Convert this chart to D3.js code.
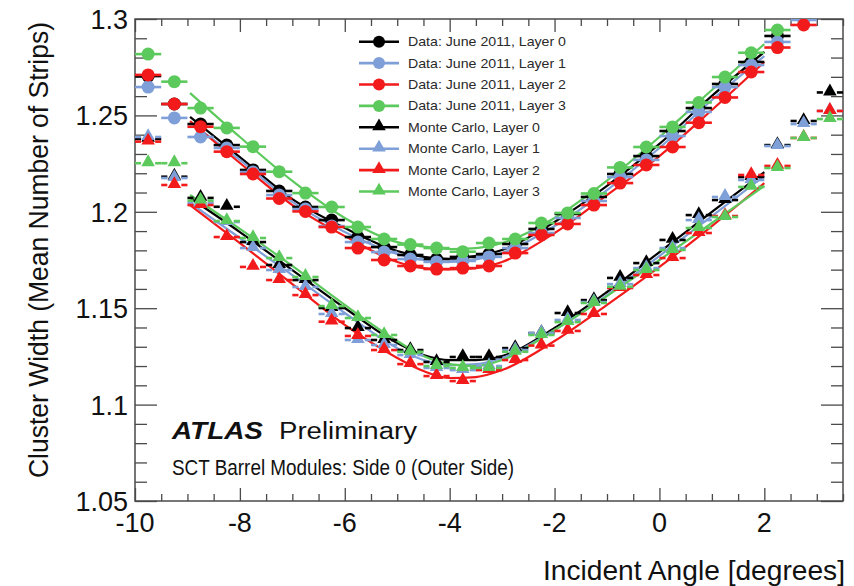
<!DOCTYPE html>
<html>
<head>
<meta charset="utf-8">
<script src="https://cdn.jsdelivr.net/npm/d3@7"></script>
<style>
  html, body { margin: 0; padding: 0; background: #fff; }
  svg { display: block; font-family: "Liberation Sans", Arial, Helvetica, sans-serif; }
</style>
</head>
<body>
<svg id="chart" width="854" height="586"></svg>
<script>
// Bin centres of the incident angle histogram (degrees)
const angles = [-9.75, -9.25, -8.75, -8.25, -7.75, -7.25, -6.75, -6.25, -5.75, -5.25,
                -4.75, -4.25, -3.75, -3.25, -2.75, -2.25, -1.75, -1.25, -0.75, -0.25,
                0.25, 0.75, 1.25, 1.75, 2.25, 2.75, 3.25];
const binHalfWidth = 0.25;

// Mean cluster width, data (June 2011)
const dataLayer0 = [1.2704, 1.2559, 1.2455, 1.2346, 1.2217, 1.2108, 1.2025, 1.1957, 1.1869, 1.1817,
                    1.1776, 1.1755, 1.1766, 1.1781, 1.1833, 1.1911, 1.1989, 1.2077, 1.2196, 1.2289,
                    1.2419, 1.2538, 1.2663, 1.2777, 1.2912, null, null];
const dataLayer1 = [1.2647, 1.2487, 1.2388, 1.2331, 1.2206, 1.2087, 1.2014, 1.1926, 1.1843, 1.1791,
                    1.1755, 1.1740, 1.1745, 1.1766, 1.1812, 1.1890, 1.1968, 1.2056, 1.2180, 1.2269,
                    1.2393, 1.2518, 1.2647, 1.2761, 1.2881, 1.2995, null];
const dataLayer2 = [1.2710, 1.2559, 1.2441, 1.2312, 1.2196, 1.2069, 1.2002, 1.1921, 1.1812, 1.1750,
                    1.1719, 1.1703, 1.1708, 1.1719, 1.1786, 1.1880, 1.1937, 1.2035, 1.2149, 1.2243,
                    1.2336, 1.2462, 1.2593, 1.2725, 1.2852, 1.2969, null];
const dataLayer3 = [1.2818, 1.2675, 1.2538, 1.2435, 1.2338, 1.2208, 1.2097, 1.2025, 1.1921, 1.1859,
                    1.1830, 1.1812, 1.1793, 1.1838, 1.1859, 1.1942, 1.1994, 1.2095, 1.2230, 1.2336,
                    1.2440, 1.2567, 1.2699, 1.2825, 1.2943, null, null];

// Mean cluster width, Monte Carlo
const mcLayer0 = [1.2378, 1.2182, 1.2072, 1.2026, 1.1843, 1.1724, 1.1646, 1.1501, 1.1397, 1.1335,
                  1.1283, 1.1221, 1.1247, 1.1247, 1.1293, 1.1371, 1.1475, 1.1542, 1.1657, 1.1734,
                  1.1854, 1.1983, 1.2061, 1.2180, 1.2346, 1.2471, 1.2619];
const mcLayer1 = [1.2388, 1.2175, 1.2046, 1.1947, 1.1812, 1.1698, 1.1610, 1.1470, 1.1335, 1.1309,
                  1.1257, 1.1190, 1.1179, 1.1200, 1.1283, 1.1371, 1.1439, 1.1532, 1.1625, 1.1708,
                  1.1812, 1.1957, 1.2077, 1.2165, 1.2341, 1.2455, 1.2523];
const mcLayer2 = [1.2364, 1.2139, 1.2035, 1.1869, 1.1714, 1.1646, 1.1568, 1.1430, 1.1356, 1.1283,
                  1.1210, 1.1148, 1.1122, 1.1179, 1.1231, 1.1306, 1.1382, 1.1470, 1.1605, 1.1672,
                  1.1760, 1.1890, 1.1978, 1.2191, 1.2238, 1.2383, 1.2523];
const mcLayer3 = [1.2252, 1.2252, 1.2058, 1.1952, 1.1864, 1.1760, 1.1662, 1.1511, 1.1449, 1.1361,
                  1.1274, 1.1200, 1.1190, 1.1190, 1.1274, 1.1361, 1.1428, 1.1527, 1.1611, 1.1698,
                  1.1802, 1.1916, 1.1973, 1.2129, 1.2227, 1.2383, 1.2481];

// Fitted curves, sampled at these angles
const fitAngles = [-8.95, -8, -7, -6, -5, -4.5, -4, -3.5, -3, -2, -1, 0, 1, 2];
const fitData0 = [1.2492, 1.2284, 1.2066, 1.1916, 1.1797, 1.1766, 1.1755, 1.1771, 1.1802, 1.1947, 1.2134, 1.2352, 1.2601, 1.2829];
const fitData1 = [1.2466, 1.2269, 1.2051, 1.1895, 1.1781, 1.1750, 1.1740, 1.1753, 1.1786, 1.1926, 1.2113, 1.2331, 1.2580, 1.2808];
const fitData2 = [1.2471, 1.2253, 1.2035, 1.1874, 1.1740, 1.1708, 1.1701, 1.1708, 1.1740, 1.1890, 1.2087, 1.2289, 1.2528, 1.2777];
const fitData3 = [1.2616, 1.2388, 1.2160, 1.1968, 1.1843, 1.1820, 1.1807, 1.1812, 1.1838, 1.1968, 1.2162, 1.2388, 1.2632, 1.2870];
const fitMc0 = [1.2072, 1.1895, 1.1698, 1.1501, 1.1319, 1.1257, 1.1231, 1.1231, 1.1252, 1.1397, 1.1584, 1.1791, 1.1999, 1.2206];
const fitMc1 = [1.2046, 1.1864, 1.1672, 1.1475, 1.1293, 1.1231, 1.1205, 1.1210, 1.1242, 1.1387, 1.1568, 1.1771, 1.1978, 1.2186];
const fitMc2 = [1.2035, 1.1838, 1.1625, 1.1413, 1.1242, 1.1174, 1.1138, 1.1143, 1.1179, 1.1330, 1.1517, 1.1714, 1.1926, 1.2149];
const fitMc3 = [1.2087, 1.1911, 1.1719, 1.1517, 1.1330, 1.1252, 1.1210, 1.1200, 1.1231, 1.1387, 1.1563, 1.1750, 1.1942, 1.2134];

const legendLabels = ["Data: June 2011, Layer 0", "Data: June 2011, Layer 1",
                      "Data: June 2011, Layer 2", "Data: June 2011, Layer 3",
                      "Monte Carlo, Layer 0", "Monte Carlo, Layer 1",
                      "Monte Carlo, Layer 2", "Monte Carlo, Layer 3"];
const layerColors = ["#000000", "#7f9fd9", "#f21a1a", "#5cc95c"];

const xTickValues = [-10, -8, -6, -4, -2, 0, 2];
const yTickValues = [1.05, 1.1, 1.15, 1.2, 1.25, 1.3];

const series = [
  { kind: "data", layer: 0, values: dataLayer0, fit: fitData0 },
  { kind: "data", layer: 1, values: dataLayer1, fit: fitData1 },
  { kind: "data", layer: 2, values: dataLayer2, fit: fitData2 },
  { kind: "data", layer: 3, values: dataLayer3, fit: fitData3 },
  { kind: "mc", layer: 0, values: mcLayer0, fit: fitMc0 },
  { kind: "mc", layer: 1, values: mcLayer1, fit: fitMc1 },
  { kind: "mc", layer: 2, values: mcLayer2, fit: fitMc2 },
  { kind: "mc", layer: 3, values: mcLayer3, fit: fitMc3 }
];

const frame = { left: 135, right: 843, top: 19, bottom: 501 };

const x = d3.scaleLinear().domain([-10, 3.5]).range([frame.left, frame.right]);
const y = d3.scaleLinear().domain([1.05, 1.3]).range([frame.bottom, frame.top]);

const svg = d3.select("#chart");

svg.append("defs").append("clipPath").attr("id", "plotClip")
  .append("rect")
  .attr("x", frame.left).attr("y", frame.top)
  .attr("width", frame.right - frame.left).attr("height", frame.bottom - frame.top);

const frameColor = "#4a4a4a";

// Axes with inward ticks (major and minor) on all four sides
const xMinor = d3.range(-10, 3.5001, 0.5).filter(v => Math.abs(v / 2 - Math.round(v / 2)) > 1e-6);
const yMinor = d3.range(1.05, 1.3001, 0.01).filter(v => Math.abs(v / 0.05 - Math.round(v / 0.05)) > 1e-6);

function axisGroup(axisFn, scale, ticks, len, tx, ty) {
  const g = svg.append("g").attr("transform", `translate(${tx},${ty})`)
    .call(axisFn(scale).tickValues(ticks).tickSize(len).tickFormat(""));
  g.select(".domain").remove();
  g.selectAll(".tick line").attr("stroke", frameColor).attr("stroke-width", 1.3);
  return g;
}
// bottom (ticks point up)
axisGroup(d3.axisTop, x, xTickValues, 13, 0, frame.bottom);
axisGroup(d3.axisTop, x, xMinor, 7, 0, frame.bottom);
// top (ticks point down)
axisGroup(d3.axisBottom, x, xTickValues, 13, 0, frame.top);
axisGroup(d3.axisBottom, x, xMinor, 7, 0, frame.top);
// left (ticks point right)
axisGroup(d3.axisRight, y, yTickValues, 22, frame.left, 0);
axisGroup(d3.axisRight, y, yMinor, 12, frame.left, 0);
// right (ticks point left)
axisGroup(d3.axisLeft, y, yTickValues, 22, frame.right, 0);
axisGroup(d3.axisLeft, y, yMinor, 12, frame.right, 0);

svg.append("rect")
  .attr("x", frame.left).attr("y", frame.top)
  .attr("width", frame.right - frame.left).attr("height", frame.bottom - frame.top)
  .attr("fill", "none").attr("stroke", frameColor).attr("stroke-width", 1.5);

// Tick labels
const tickFont = 27;
svg.append("g").selectAll("text").data(xTickValues).join("text")
  .attr("x", d => x(d)).attr("y", frame.bottom + 31)
  .attr("text-anchor", "middle")
  .attr("font-size", tickFont).attr("fill", "#111")
  .text(d => d3.format("d")(d).replace("−", "-"));

svg.append("g").selectAll("text").data(yTickValues).join("text")
  .attr("x", frame.left - 7).attr("y", d => y(d) + 10)
  .attr("text-anchor", "end")
  .attr("font-size", tickFont).attr("fill", "#111")
  .text(d => String(+d.toFixed(2)));

// Axis titles
svg.append("text")
  .attr("x", 845).attr("y", 580)
  .attr("text-anchor", "end")
  .attr("font-size", 28).attr("fill", "#111")
  .attr("textLength", 302).attr("lengthAdjust", "spacingAndGlyphs")
  .text("Incident Angle [degrees]");

svg.append("text")
  .attr("transform", "translate(48,22) rotate(-90)")
  .attr("text-anchor", "end")
  .attr("font-size", 27).attr("fill", "#111")
  .attr("textLength", 456).attr("lengthAdjust", "spacingAndGlyphs")
  .text("Cluster Width (Mean Number of Strips)");

// Plot contents
const plot = svg.append("g").attr("clip-path", "url(#plotClip)");

const line = d3.line()
  .x(d => x(d[0])).y(d => y(d[1]))
  .curve(d3.curveMonotoneX);

const triangle = d3.symbol().type(d3.symbolTriangle).size(80);

series.forEach(s => {
  const col = layerColors[s.layer];
  plot.append("path")
    .datum(fitAngles.map((a, i) => [a, s.fit[i]]))
    .attr("d", line)
    .attr("fill", "none").attr("stroke", col).attr("stroke-width", 2.2);
});

series.forEach(s => {
  const col = layerColors[s.layer];
  const pts = angles.map((a, i) => ({ a, v: s.values[i] })).filter(d => d.v !== null);
  const g = plot.append("g");
  const gap = s.kind === "mc" ? 7 : 0;
  // horizontal bin-width error bars
  g.selectAll("line.l").data(pts).join("line")
    .attr("x1", d => x(d.a - binHalfWidth)).attr("x2", d => x(d.a) - gap)
    .attr("y1", d => y(d.v)).attr("y2", d => y(d.v))
    .attr("stroke", col).attr("stroke-width", 2.6);
  g.selectAll("line.r").data(pts).join("line")
    .attr("x1", d => x(d.a) + gap).attr("x2", d => x(d.a + binHalfWidth))
    .attr("y1", d => y(d.v)).attr("y2", d => y(d.v))
    .attr("stroke", col).attr("stroke-width", 2.6);
  if (s.kind === "data") {
    g.selectAll("circle").data(pts).join("circle")
      .attr("cx", d => x(d.a)).attr("cy", d => y(d.v)).attr("r", 6.5)
      .attr("fill", col);
  } else {
    g.selectAll("path").data(pts).join("path")
      .attr("transform", d => `translate(${x(d.a)},${y(d.v) - 1})`)
      .attr("d", triangle).attr("fill", col);
  }
});

// Legend
const legend = svg.append("g");
series.forEach((s, i) => {
  const col = layerColors[s.layer];
  const ry = 41.7 + i * 21.4;
  legend.append("line")
    .attr("x1", 359).attr("x2", 399).attr("y1", ry).attr("y2", ry)
    .attr("stroke", col).attr("stroke-width", 2.6);
  if (s.kind === "data") {
    legend.append("circle").attr("cx", 379).attr("cy", ry).attr("r", 6).attr("fill", col);
  } else {
    legend.append("path").attr("transform", `translate(379,${ry - 1})`)
      .attr("d", triangle).attr("fill", col);
  }
  legend.append("text")
    .attr("x", 408).attr("y", ry + 4.5)
    .attr("font-size", 13).attr("fill", "#2a2a2a")
    .attr("textLength", s.kind === "data" ? 158 : 132).attr("lengthAdjust", "spacingAndGlyphs")
    .text(legendLabels[i]);
});

// Experiment label
svg.append("text")
  .attr("x", 172).attr("y", 439)
  .attr("font-size", 24).attr("font-weight", "bold").attr("font-style", "italic").attr("fill", "#111")
  .attr("textLength", 91).attr("lengthAdjust", "spacingAndGlyphs")
  .text("ATLAS");
svg.append("text")
  .attr("x", 279).attr("y", 439)
  .attr("font-size", 23).attr("fill", "#111")
  .attr("textLength", 138).attr("lengthAdjust", "spacingAndGlyphs")
  .text("Preliminary");
svg.append("text")
  .attr("x", 172).attr("y", 475)
  .attr("font-size", 22).attr("fill", "#111")
  .attr("textLength", 342).attr("lengthAdjust", "spacingAndGlyphs")
  .text("SCT Barrel Modules: Side 0 (Outer Side)");
</script>
</body>
</html>
